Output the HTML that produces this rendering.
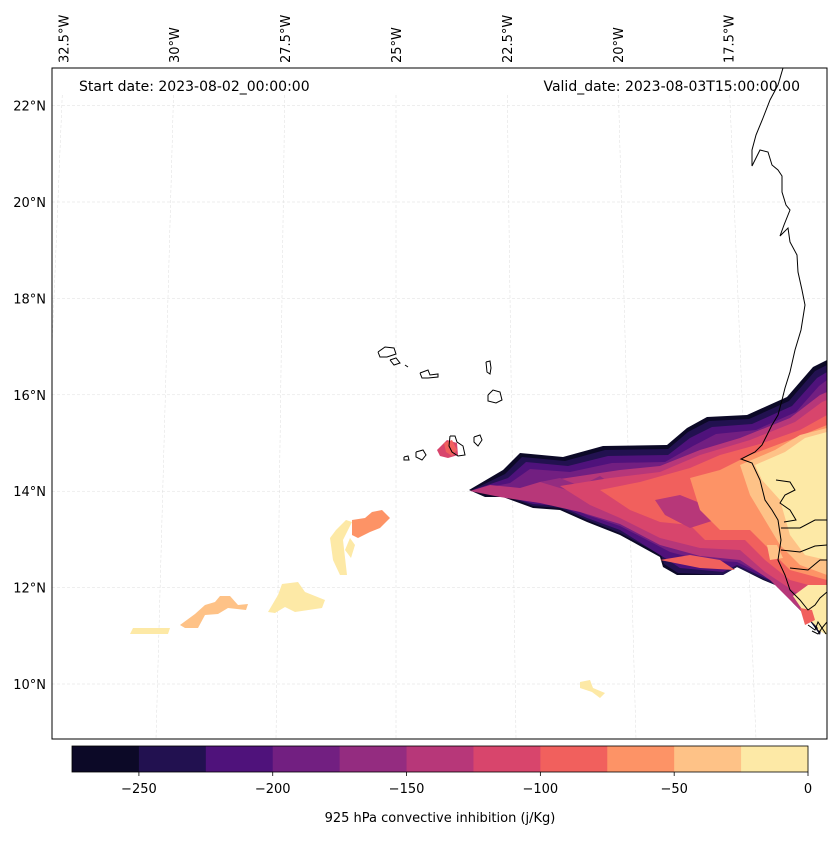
<!DOCTYPE html>
<html><head><meta charset="utf-8"><style>
body{margin:0;background:#fff;font-family:"Liberation Sans","DejaVu Sans",sans-serif;}
svg text{font-family:"DejaVu Sans","Liberation Sans",sans-serif;font-size:13px;fill:#000}
</style></head><body>
<svg id="fig" width="837" height="836" viewBox="0 0 837 836" xmlns="http://www.w3.org/2000/svg">
<defs><clipPath id="mapclip"><rect x="52" y="68" width="775" height="671"/></clipPath></defs>
<g id="map" clip-path="url(#mapclip)"></g>
<rect x="52" y="68" width="775" height="671" fill="none" stroke="#000" stroke-width="1"/>
<text x="79" y="91" style="font-size:14px">Start date: 2023-08-02_00:00:00</text>
<text x="800" y="91" text-anchor="end" style="font-size:14px">Valid_date: 2023-08-03T15:00:00.00</text>
<g id="axes"></g>
<g id="cbar"></g>
<text x="440" y="822" text-anchor="middle">925 hPa convective inhibition (j/Kg)</text>
</svg>
<script>
const levels=[-275,-250,-225,-200,-175,-150,-125,-100,-75,-50,-25,0];
const colors=["#0c0927","#221150","#4f127b","#721f81","#942c80","#b73779","#d8456c","#f1605d","#fd9366","#fec287","#fde9a6"];
const cbTicks=[-250,-200,-150,-100,-50,0];
const lonTicks=[-32.5,-30,-27.5,-25,-22.5,-20,-17.5];
const latTicks=[10,12,14,16,18,20,22];
// field polygons (bin index, pixel outline of contour region)
const fieldBins=[0,1,2,3,5,4,6,7,5,7,8,9,10,10,10,10,9,8,10,10,10,9,7,10,6,7];
const fieldShapes=[
"469,490 503,470 520,453 563,457 603,446 667,445 687,428 707,417 747,415 787,397 813,367 827,360 827,600 820,635 807,617 793,603 780,587 763,580 737,567 723,575 677,575 663,567 660,557 620,535 587,522 560,510 533,508 503,497 485,497",
"472,490 505,474 522,457 565,461 605,450 668,449 688,432 709,421 749,419 789,401 815,371 827,365 827,600 807,615 780,587 737,567 723,575 678,573 664,564 661,555 620,533 587,520 560,508 533,506 503,495",
"473,490 508,478 526,462 568,466 608,456 668,455 690,438 712,427 752,424 792,406 817,378 827,372 827,600 780,585 737,565 723,572 680,568 668,560 620,530 587,518 560,506 533,504 503,495",
"474,490 510,483 530,469 570,472 612,463 665,462 693,446 716,434 756,430 796,412 819,386 827,380 827,600 780,583 737,562 700,560 670,552 620,526 587,515 560,503 533,502 503,495",
"470,491 490,485 520,488 540,482 580,476 620,470 660,466 700,450 740,438 790,418 820,395 827,392 827,600 800,610 770,580 740,560 700,556 660,545 620,524 580,512 540,503 500,497",
"540,482 560,478 580,486 600,476 620,490 640,480 670,500 700,500 720,515 690,520 650,515",
"560,486 610,478 660,472 700,455 750,440 795,422 822,402 827,400 827,600 795,592 765,572 740,550 700,548 660,538 620,518 590,505",
"600,490 640,482 690,468 720,455 760,444 800,430 827,415 827,590 790,580 765,560 745,540 705,540 690,525 660,522 630,510",
"655,500 680,495 705,505 715,520 690,528 665,515",
"660,560 690,555 720,560 735,570 700,568",
"690,478 720,470 750,455 790,440 827,425 827,580 790,570 770,550 750,530 720,530 700,510",
"740,465 775,450 800,435 827,428 827,575 800,565 780,545 765,520 750,495",
"755,465 785,452 805,438 827,432 827,560 805,555 790,535 780,500 762,480",
"330,538 336,530 346,520 352,522 343,540 347,575 340,575 333,560",
"268,612 278,595 282,584 298,582 305,592 325,600 322,608 295,612 285,607 275,613",
"130,634 133,628 170,628 168,634",
"180,625 195,614 205,605 215,602 220,596 230,596 238,605 248,604 246,610 228,608 218,614 205,615 198,628 185,628",
"352,520 365,518 372,512 382,510 390,518 380,528 370,532 358,538 352,535",
"580,682 590,680 593,688 605,693 600,698 592,692 580,688",
"793,596 808,585 827,585 827,630 818,628 808,618",
"815,615 827,612 827,635 818,630",
"767,545 777,545 783,558 770,560",
"800,608 812,610 815,620 805,625",
"345,550 350,538 355,545 351,558",
"437,450 447,440 457,443 458,455 448,458 440,456",
"444,443 452,440 457,450 452,456 446,452"];
const coastLines=[
"783,68 778,85 770,100 763,118 756,135 752,150 752,166 760,150 768,152 772,165 778,170 782,176 782,192 786,205 790,210 784,225 780,236 788,228 790,242 797,255 798,272 802,290 805,305 801,330 795,350 790,372 785,388 782,400 778,415 772,425 767,435 762,445 755,452 741,459 752,463 760,480 765,500 772,510 778,520 781,540 778,560 785,575 790,590 800,600 808,610 815,605 820,598 827,592",
"776,480 790,482 795,490 785,495 780,503 790,510 796,520 784,522",
"781,528 800,528 815,520 827,520",
"781,550 800,552 815,546 827,545",
"790,568 808,570 820,560 827,560",
"808,625 815,630 818,622 822,628 827,622",
"812,631 818,634 822,628 826,634",
"378,352 385,347 394,348 396,354 387,357 380,357 378,352",
"390,360 396,358 400,363 394,365 390,360",
"405,365 408,367",
"420,373 428,370 430,375 438,374 438,377 428,378 422,378 420,373",
"486,362 490,361 491,368 490,374 487,372 486,362",
"488,395 493,390 500,392 502,400 496,403 488,401 488,395",
"474,437 480,435 482,440 478,446 474,442 474,437",
"404,457 408,456 409,460 404,460 404,457",
"416,452 423,450 426,455 422,460 416,457 416,452",
"450,436 455,436 457,442 463,446 465,455 458,456 452,452 449,446 450,436"];

const NS="http://www.w3.org/2000/svg";
const map=document.getElementById('map'),axes=document.getElementById('axes'),cbar=document.getElementById('cbar');
function mk(tag,attrs,parent){const e=document.createElementNS(NS,tag);for(const k in attrs)e.setAttribute(k,attrs[k]);parent.appendChild(e);return e;}
function latY(lat){return 202+(20-lat)*48.2;}
function lonX(lon,y){const k=44.5+(y-95)/644*3.5;return 396+(lon+25)*k;}
latTicks.forEach(lat=>{const y=latY(lat);
 const l=mk('line',{x1:52,x2:827,y1:y,y2:y,stroke:'#dddddd','stroke-width':0.5,'stroke-dasharray':'3,2'},map);
 
 
 const t=mk('text',{x:46,y:y+5,'text-anchor':'end'},axes);t.textContent=lat+'°N';
 
 
});
lonTicks.forEach(lon=>{
 const l=mk('line',{x1:lonX(lon,95),y1:95,x2:lonX(lon,739),y2:739,stroke:'#dddddd','stroke-width':0.5,'stroke-dasharray':'3,2'},map);
 
 
 const x=lonX(lon,68)+5;
 const t=mk('text',{x:x,y:63,transform:'rotate(-90 '+x+' 63)'},axes);t.textContent=Math.abs(lon)+'°W';
 
 
});
fieldShapes.forEach((p,i)=>{const e=mk('polygon',{points:p,fill:colors[fieldBins[i]]},map);
 
 });
coastLines.forEach(p=>{const e=mk('polyline',{points:p,fill:'none',stroke:'#000','stroke-width':1},map);
 
 });
const cx0=72,cx1=808,cy=746,ch=26;
function cbX(v){return cx0+(v-levels[0])/(levels[levels.length-1]-levels[0])*(cx1-cx0);}
colors.forEach((c,i)=>{const e=mk('rect',{x:cbX(levels[i]),y:cy,width:cbX(levels[i+1])-cbX(levels[i])+0.5,height:ch,fill:c},cbar);
 
 });
const fr=mk('rect',{x:cx0,y:cy,width:cx1-cx0,height:ch,fill:'none',stroke:'#000','stroke-width':0.8},cbar);


cbTicks.forEach(v=>{const x=cbX(v);
 const tk=mk('line',{x1:x,x2:x,y1:cy+ch,y2:cy+ch+4,stroke:'#000','stroke-width':0.8},cbar);
 
 
 const t=mk('text',{x:x,y:793,'text-anchor':'middle'},cbar);t.textContent=(v<0?'\u2212'+(-v):v);
 
 });
</script>
</body></html>
